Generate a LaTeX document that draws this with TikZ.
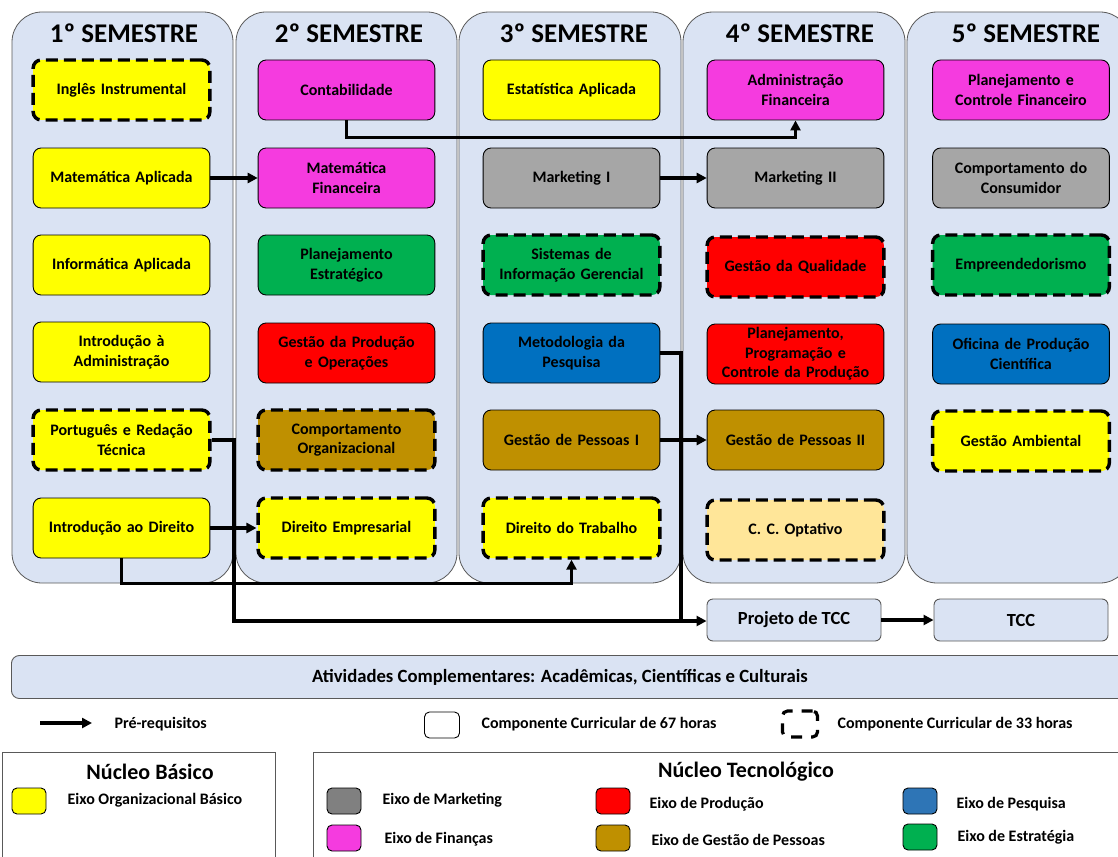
\documentclass[tikz,border=0pt]{standalone}
\usepackage{fontspec}
\setmainfont{Carlito}
\usetikzlibrary{arrows.meta}

\definecolor{painel}{HTML}{DAE3F3}
\definecolor{bordapainel}{HTML}{595959}
\definecolor{basico}{HTML}{FFFF00}
\definecolor{financas}{HTML}{F53BDF}
\definecolor{marketing}{HTML}{A6A6A6}
\definecolor{estrategia}{HTML}{00B050}
\definecolor{producao}{HTML}{FF0000}
\definecolor{pesquisa}{HTML}{0070C0}
\definecolor{pessoas}{HTML}{BF9000}
\definecolor{optativo}{HTML}{FFE699}
\definecolor{legcinza}{HTML}{808080}
\definecolor{legazul}{HTML}{2E75B6}

\tikzset{
  semestre/.style={draw=bordapainel, fill=painel, rounded corners=30pt, line width=0.8pt},
  titulo/.style={font=\bfseries\fontsize{27}{30}\selectfont},
  disc/.style={draw, rounded corners=8pt, line width=0.9pt, minimum width=173pt,
    minimum height=60pt, text width=170pt, align=center,
    font=\bfseries\fontsize{16}{19.5}\selectfont},
  curta/.style={line width=3.4pt, dash pattern=on 12pt off 6pt},
  conn/.style={line width=3.2pt, -{Triangle[length=10pt,width=10pt]}},
  elo/.style={line width=3.2pt},
  tcc/.style={draw=bordapainel, fill=painel, rounded corners=6pt, line width=0.9pt,
    minimum width=174pt, minimum height=42pt, font=\bfseries\fontsize{18.5}{21}\selectfont},
  legtexto/.style={font=\bfseries\fontsize{16}{19}\selectfont, anchor=west},
  amostra/.style={draw, rounded corners=5pt, line width=0.9pt, minimum width=34pt, minimum height=26pt},
}

\begin{document}
\begin{tikzpicture}[x=1pt, y=-1pt]
\useasboundingbox (0,0) rectangle (1118,856);

    % Semestres
    \draw[semestre] (12,12) rectangle (233,583);
    \draw[semestre] (236,12) rectangle (457,583);
    \draw[semestre] (459,12) rectangle (681,583);
    \draw[semestre] (683,12) rectangle (905,583);
    \draw[semestre] (907,12) rectangle (1130,583);

    \node[titulo] (t1) at (124,33) {1º SEMESTRE};
    \node[titulo] (t2) at (349,33) {2º SEMESTRE};
    \node[titulo] (t3) at (574,33) {3º SEMESTRE};
    \node[titulo] (t4) at (800,33) {4º SEMESTRE};
    \node[titulo] (t5) at (1026,33) {5º SEMESTRE};

    % 1o semestre
    \node[disc, fill=basico, curta] (ingles) at (121.5,90) {Inglês Instrumental};
    \node[disc, fill=basico] (matapl) at (121.5,178) {Matemática Aplicada};
    \node[disc, fill=basico] (infapl) at (121.5,265) {Informática Aplicada};
    \node[disc, fill=basico] (introadm) at (121.5,352) {Introdução à\\Administração};
    \node[disc, fill=basico, curta] (portug) at (121.5,440) {Português e Redação\\Técnica};
    \node[disc, fill=basico] (introdir) at (121.5,528) {Introdução ao Direito};

    % 2o semestre
    \node[disc, fill=financas] (contab) at (346.5,90) {Contabilidade};
    \node[disc, fill=financas] (matfin) at (346.5,178) {Matemática\\Financeira};
    \node[disc, fill=estrategia] (planest) at (346.5,265) {Planejamento\\Estratégico};
    \node[disc, fill=producao] (gestprod) at (346.5,353) {Gestão da Produção\\e Operações};
    \node[disc, fill=pessoas, curta] (comporg) at (346.5,440) {Comportamento\\Organizacional};
    \node[disc, fill=basico, curta] (diremp) at (346.5,528) {Direito Empresarial};

    % 3o semestre
    \node[disc, fill=basico] (estapl) at (571.5,90) {Estatística Aplicada};
    \node[disc, fill=marketing] (mkt1) at (571.5,178) {Marketing I};
    \node[disc, fill=estrategia, curta] (sig) at (571.5,265) {Sistemas de\\Informação Gerencial};
    \node[disc, fill=pesquisa] (metod) at (571.5,353) {Metodologia da\\Pesquisa};
    \node[disc, fill=pessoas] (gp1) at (571.5,440) {Gestão de Pessoas I};
    \node[disc, fill=basico, curta] (dirtrab) at (571.5,528) {Direito do Trabalho};

    % 4o semestre
    \node[disc, fill=financas] (admfin) at (795.5,90) {Administração\\Financeira};
    \node[disc, fill=marketing] (mkt2) at (795.5,178) {Marketing II};
    \node[disc, fill=producao, curta] (qualid) at (795.5,267) {Gestão da Qualidade};
    \node[disc, fill=producao] (pcp) at (795.5,354) {Planejamento,\\Programação e\\Controle da Produção};
    \node[disc, fill=pessoas] (gp2) at (795.5,440) {Gestão de Pessoas II};
    \node[disc, fill=optativo, curta] (optat) at (795.5,530) {C. C. Optativo};

    % 5o semestre
    \node[disc, fill=financas] (pcfin) at (1021,90) {Planejamento e\\Controle Financeiro};
    \node[disc, fill=marketing] (compcons) at (1021,178) {Comportamento do\\Consumidor};
    \node[disc, fill=estrategia, curta] (empreend) at (1021,265) {Empreendedorismo};
    \node[disc, fill=pesquisa] (oficina) at (1021,354) {Oficina de Produção\\Científica};
    \node[disc, fill=basico, curta] (gestamb) at (1021,441) {Gestão Ambiental};

    % TCC
    \node[tcc] (projtcc) at (794,620) {Projeto de TCC};
    \node[tcc] (tccfinal) at (1021,620) {TCC};

    % Pre-requisitos
    \coordinate (dobraA) at (234,621);
    \coordinate (dobraB) at (681,621);
    \draw[conn] (contab.south) -- ++(0,17) -| (admfin.south);
    \draw[conn] (matapl) -- (matfin);
    \draw[conn] (mkt1) -- (mkt2);
    \draw[conn] (gp1) -- (gp2);
    \draw[conn] (introdir) -- (diremp);
    \draw[conn] (introdir.south) -- ++(0,25) -| (dirtrab.south);
    \draw[elo] (metod.east) -| (dobraB);
    \draw[conn] (portug.east) -| (dobraA) -- (projtcc.west |- dobraA);
    \draw[conn] (projtcc) -- (tccfinal);

    % Atividades complementares
    \node[draw=bordapainel, fill=painel, rounded corners=8pt, line width=0.9pt,
      minimum width=1120pt, minimum height=43pt, anchor=west] (ativ) at (11,677) {};
    \node[font=\bfseries\fontsize{18.7}{22}\selectfont] (ativtxt) at (560,677)
      {Atividades Complementares: Acadêmicas, Científicas e Culturais};

    % Legenda
    \coordinate (legA) at (40,723);
    \coordinate (legB) at (92,723);
    \draw[conn] (legA) -- (legB);
    \node[legtexto] (legpre) at (111,724) {Pré-requisitos};
    \node[amostra, minimum width=35pt] (leg67) at (442,725) {};
    \node[legtexto] (leg67txt) at (478,724) {Componente Curricular de 67 horas};
    \node[amostra, minimum width=35pt, line width=3.2pt, dash pattern=on 11pt off 9pt] (leg33) at (800,724) {};
    \node[legtexto] (leg33txt) at (834,724) {Componente Curricular de 33 horas};

    % Nucleos
    \draw[draw=bordapainel, line width=0.9pt] (2,752) rectangle (275,870);
    \draw[draw=bordapainel, line width=0.9pt] (313,752) rectangle (1130,870);
    \node[font=\bfseries\fontsize{22}{25}\selectfont] (nbasico) at (150,772) {Núcleo Básico};
    \node[font=\bfseries\fontsize{22}{25}\selectfont] (ntecno) at (746,772) {Núcleo Tecnológico};

    \node[amostra, fill=basico] (sw1) at (29,801) {};
    \node[legtexto] (sw1t) at (64,800) {Eixo Organizacional Básico};
    \node[amostra, fill=legcinza] (sw2) at (344,801) {};
    \node[legtexto] (sw2t) at (379,800) {Eixo de Marketing};
    \node[amostra, fill=financas] (sw3) at (344,838) {};
    \node[legtexto] (sw3t) at (381,839) {Eixo de Finanças};
    \node[amostra, fill=producao] (sw4) at (613,801) {};
    \node[legtexto] (sw4t) at (646,804) {Eixo de Produção};
    \node[amostra, fill=pessoas] (sw5) at (613,838) {};
    \node[legtexto] (sw5t) at (648,840) {Eixo de Gestão de Pessoas};
    \node[amostra, fill=legazul] (sw6) at (920,801) {};
    \node[legtexto] (sw6t) at (953,804) {Eixo de Pesquisa};
    \node[amostra, fill=estrategia] (sw7) at (920,837) {};
    \node[legtexto] (sw7t) at (954,837) {Eixo de Estratégia};

\end{tikzpicture}
\end{document}
